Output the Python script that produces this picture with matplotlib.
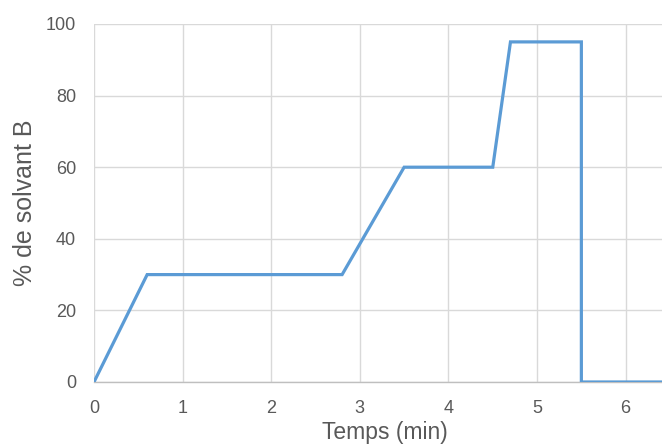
import matplotlib
matplotlib.use("Agg")
import matplotlib.pyplot as plt

plt.rcParams['font.family'] = ['Liberation Sans', 'DejaVu Sans']

time_min = [0, 0.6, 2.8, 3.5, 4.5, 4.7, 5.5, 5.5, 6.6]
solvent_b = [0, 30, 30, 60, 60, 95, 95, 0, 0]
x_ticks = [0, 1, 2, 3, 4, 5, 6]
y_ticks = [0, 20, 40, 60, 80, 100]

fig = plt.figure(figsize=(6.62, 4.48), dpi=100)
ax = fig.add_axes([94/662, 1 - 382/448, 1 - 94/662, (382 - 24)/448])

ax.plot(time_min, solvent_b, color='#5B9BD5', linewidth=2.3, solid_joinstyle='miter', zorder=3)

ax.set_xlim(0, 6.41)
ax.set_ylim(0, 100)
ax.set_xticks(x_ticks)
ax.set_yticks(y_ticks)
ax.grid(True, color='#d9d9d9', linewidth=1.0, zorder=0)
ax.set_axisbelow(True)

for s in ['top', 'right', 'left']:
    ax.spines[s].set_visible(False)
ax.spines['bottom'].set_color('#bfbfbf')
ax.spines['bottom'].set_linewidth(1.0)

ax.tick_params(axis='both', length=0, labelsize=13, labelcolor='#595959')
ax.tick_params(axis='y', pad=13)
ax.tick_params(axis='x', pad=13)

ax.set_xlabel('Temps (min)', fontsize=16.5, color='#595959')
ax.xaxis.set_label_coords(0.512, -0.108)
ax.set_ylabel('% de solvant B', fontsize=18, color='#595959')
ax.yaxis.set_label_coords(-0.1, 0.5)

fig.savefig('out.png', dpi=100)
